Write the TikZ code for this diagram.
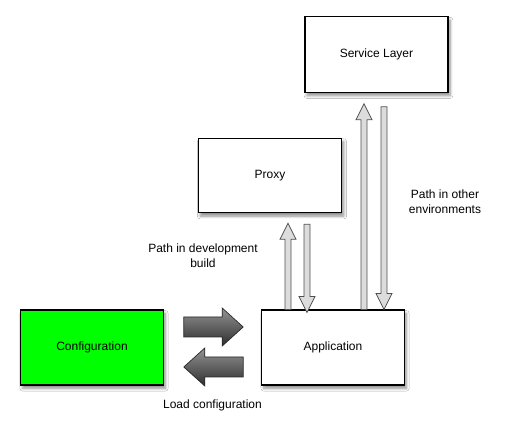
\documentclass[tikz,border=0pt]{standalone}
\usepackage{fontspec}
\setmainfont{Liberation Sans}
\usetikzlibrary{calc,shadows.blur}
\definecolor{cfggreen}{RGB}{0,255,0}
\definecolor{thinfill}{RGB}{220,220,220}
\definecolor{thinline}{RGB}{80,80,80}
\tikzset{
  box/.style={draw=black, line width=0.8pt, fill=white, inner sep=0pt,
    blur shadow={shadow xshift=1.5pt, shadow yshift=-2.5pt, shadow blur steps=6, shadow opacity=45}},
  lbl/.style={font=\fontsize{9pt}{11.25pt}\selectfont, align=center, inner sep=0pt},
  thinarrow/.style={draw=thinline, fill=thinfill, line width=0.6pt, line join=miter},
  bigarrow/.style={draw=black!85, line width=0.5pt, top color=black!42, bottom color=black!82, line join=miter},
}
% vertical block arrow from #1 (tail) to #2 (tip)
\newcommand\blockv[2]{%
  \draw[thinarrow] let \p1=(#1), \p2=(#2), \n1={sign(\y2-\y1)*12} in
    ({\x1-2.25pt},\y1) -- ({\x1-2.25pt},{\y2-\n1*1pt}) -- ({\x1-6pt},{\y2-\n1*1pt})
    -- (\x1,\y2) -- ({\x1+6pt},{\y2-\n1*1pt}) -- ({\x1+2.25pt},{\y2-\n1*1pt})
    -- ({\x1+2.25pt},\y1) -- cycle;}
% horizontal big block arrow from #1 (tail) to #2 (tip)
\newcommand\blockh[2]{%
  \draw[bigarrow] let \p1=(#1), \p2=(#2), \n1={sign(\x2-\x1)*15.75} in
    (\x1,{\y1+7.5pt}) -- ({\x2-\n1*1pt},{\y1+7.5pt}) -- ({\x2-\n1*1pt},{\y1+14.25pt})
    -- (\x2,\y1) -- ({\x2-\n1*1pt},{\y1-14.25pt}) -- ({\x2-\n1*1pt},{\y1-7.5pt})
    -- (\x1,{\y1-7.5pt}) -- cycle;}
\begin{document}
\begin{tikzpicture}[x=0.75pt,y=-0.75pt]
\useasboundingbox (0,0) rectangle (514,434);
\fill[white] (0,0) rectangle (514,434);
% boxes
\node[box, minimum width=143*0.75pt, minimum height=75.5*0.75pt, lbl] (svc) at (376.5,54.5) {Service Layer};
\node[box, minimum width=143.5*0.75pt, minimum height=74.5*0.75pt, lbl] (proxy) at (270,175.5) {Proxy};
\node[box, minimum width=142.5*0.75pt, minimum height=75*0.75pt, lbl] (app) at (333,347.5) {Application};
\node[box, fill=cfggreen, minimum width=142.5*0.75pt, minimum height=75*0.75pt, lbl] (cfg) at (92,347.5) {Configuration};
% thin arrows
\coordinate (xa) at (288,0);
\coordinate (xb) at (307,0);
\coordinate (xc) at (364,0);
\coordinate (xd) at (384,0);
\coordinate (pa) at ($(xa |- proxy.south)+(0,10)$);
\coordinate (pb) at ($(xb |- proxy.south)+(0,11)$);
\coordinate (sa) at ($(xc |- svc.south)+(0,11)$);
\coordinate (sb) at ($(xd |- svc.south)+(0,14)$);
\coordinate (aa) at (xa |- app.north);
\coordinate (ab) at ($(xb |- app.north)+(0,3)$);
\coordinate (ac) at (xc |- app.north);
\coordinate (ad) at (xd |- app.north);
\blockv{aa}{pa}
\blockv{pb}{ab}
\blockv{ac}{sa}
\blockv{sb}{ad}
% big arrows
\coordinate (r1) at ($(cfg.east)+(20,-20.5)$);
\coordinate (r2) at ($(app.west)+(-18,-20.5)$);
\coordinate (l1) at ($(app.west)+(-18,19.5)$);
\coordinate (l2) at ($(cfg.east)+(20,19.5)$);
\blockh{r1}{r2}
\blockh{l1}{l2}
% labels
\node[lbl] (ldev) at (203,255.5) {Path in development\\build};
\node[lbl] (lother) at (445,202) {Path in other\\environments};
\node[lbl] (lload) at (212.5,405) {Load configuration};
\end{tikzpicture}
\end{document}
